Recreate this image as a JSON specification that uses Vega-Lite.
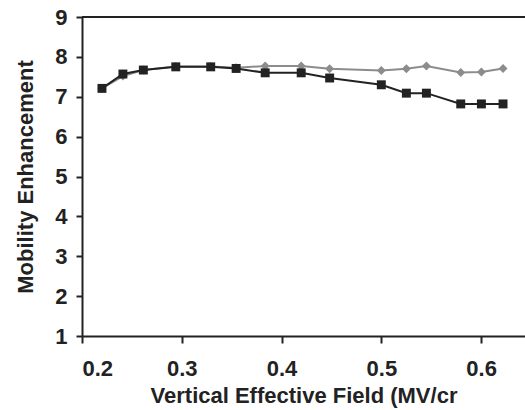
{
  "$schema": "https://vega.github.io/schema/vega-lite/v6.json",
  "autosize": {"type": "none"},
  "padding": {"left": 82, "top": 17, "right": 0, "bottom": 74},
  "width": 443,
  "height": 319,
  "background": "white",
  "config": {
    "view": {"stroke": null},
    "font": "Liberation Sans",
    "axis": {
      "domainColor": "#222",
      "domainWidth": 2,
      "tickColor": "#222",
      "tickWidth": 2,
      "grid": false,
      "labelFont": "Liberation Sans",
      "labelFontSize": 22,
      "labelFontWeight": "bold",
      "labelOverlap": false,
      "labelColor": "#222",
      "titleFont": "Liberation Sans",
      "titleFontSize": 22,
      "titleFontWeight": "bold",
      "titleColor": "#222"
    }
  },
  "datasets": {
    "pts": [
      {"field": 0.22, "value": 7.21, "series": "B"},
      {"field": 0.241, "value": 7.57, "series": "B"},
      {"field": 0.2615, "value": 7.67, "series": "B"},
      {"field": 0.294, "value": 7.75, "series": "B"},
      {"field": 0.329, "value": 7.75, "series": "B"},
      {"field": 0.3545, "value": 7.71, "series": "B"},
      {"field": 0.3836, "value": 7.6, "series": "B"},
      {"field": 0.4197, "value": 7.6, "series": "B"},
      {"field": 0.4482, "value": 7.47, "series": "B"},
      {"field": 0.5, "value": 7.3, "series": "B"},
      {"field": 0.5251, "value": 7.09, "series": "B"},
      {"field": 0.5452, "value": 7.09, "series": "B"},
      {"field": 0.5796, "value": 6.82, "series": "B"},
      {"field": 0.6003, "value": 6.82, "series": "B"},
      {"field": 0.622, "value": 6.82, "series": "B"},
      {"field": 0.22, "value": 7.21, "series": "G"},
      {"field": 0.241, "value": 7.52, "series": "G"},
      {"field": 0.2615, "value": 7.67, "series": "G"},
      {"field": 0.294, "value": 7.76, "series": "G"},
      {"field": 0.329, "value": 7.76, "series": "G"},
      {"field": 0.3545, "value": 7.73, "series": "G"},
      {"field": 0.3836, "value": 7.77, "series": "G"},
      {"field": 0.4197, "value": 7.77, "series": "G"},
      {"field": 0.4482, "value": 7.7, "series": "G"},
      {"field": 0.5, "value": 7.66, "series": "G"},
      {"field": 0.5251, "value": 7.7, "series": "G"},
      {"field": 0.5452, "value": 7.77, "series": "G"},
      {"field": 0.5796, "value": 7.61, "series": "G"},
      {"field": 0.6003, "value": 7.62, "series": "G"},
      {"field": 0.622, "value": 7.71, "series": "G"}
    ]
  },
  "encoding": {
    "x": {
      "field": "field", "type": "quantitative",
      "scale": {"domain": [0.2, 0.644], "nice": false, "zero": false},
      "axis": {"title": "Vertical Effective Field (MV/cr", "values": [0.2, 0.3, 0.4, 0.5, 0.6], "format": ".1f", "tickSize": 7, "labelPadding": 15, "titlePadding": 6}
    },
    "y": {
      "field": "value", "type": "quantitative",
      "scale": {"domain": [1, 9], "nice": false, "zero": false},
      "axis": {"title": "Mobility Enhancement", "values": [1, 2, 3, 4, 5, 6, 7, 8, 9], "tickSize": 6, "labelPadding": 9, "titlePadding": 17}
    }
  },
  "layer": [
    {
      "data": {"name": "pts"},
      "transform": [{"filter": "datum.series == 'G'"}],
      "mark": {"type": "line", "color": "#8c8c8c", "strokeWidth": 2, "point": {"shape": "diamond", "size": 80, "filled": true, "color": "#8c8c8c"}}
    },
    {
      "data": {"name": "pts"},
      "transform": [{"filter": "datum.series == 'B'"}],
      "mark": {"type": "line", "color": "#222", "strokeWidth": 2, "point": {"shape": "square", "size": 80, "filled": true, "color": "#222"}}
    },
    {
      "data": {"values": [{"value": 9}]},
      "mark": {"type": "rule", "color": "#222", "strokeWidth": 2},
      "encoding": {"x": null, "y": {"field": "value", "type": "quantitative"}}
    }
  ]
}
